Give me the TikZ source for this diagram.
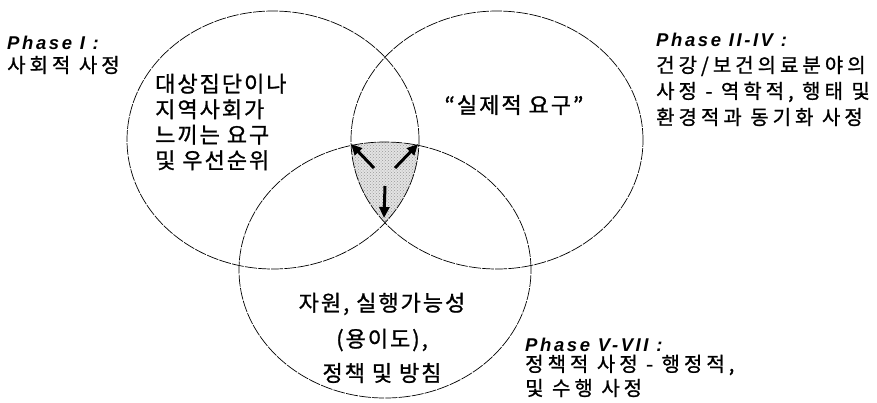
\documentclass[tikz,border=0pt]{standalone}
\usepackage{fontspec}
\setmainfont{Liberation Sans}
\newfontfamily\ph[LetterSpace=14]{Liberation Sans}
\newfontfamily\krsm[LetterSpace=20,FakeBold=1]{Noto Sans CJK KR}
\newfontfamily\krbg[LetterSpace=9,FakeBold=1]{Noto Sans CJK KR}
\usetikzlibrary{arrows.meta,shapes.geometric,patterns}
\begin{document}
\begin{tikzpicture}[x=1pt,y=-1pt,
  ring/.style={draw=black,line width=0.7pt,dash pattern=on 12pt off 1.2pt},
  arr/.style={line width=3pt,-{Triangle[length=11pt,width=10pt]}},
  phase/.style={font=\ph\fontsize{18.5}{20}\selectfont\bfseries\itshape,anchor=west,inner sep=0pt},
  krs/.style={font=\krsm\fontsize{20}{24}\selectfont,anchor=west,inner sep=0pt},
  krb/.style={font=\krbg\fontsize{22}{25.5}\selectfont,inner sep=0pt}]
\useasboundingbox (0,0) rectangle (877,402);
% shaded triple intersection
\begin{scope}
  \clip (273,140) ellipse [x radius=146pt, y radius=129pt];
  \clip (497,140) ellipse [x radius=146pt, y radius=129pt];
  \fill[gray!22] (385,270) ellipse [x radius=146pt, y radius=128pt];
  \fill[pattern=crosshatch dots,pattern color=gray!80] (385,270) ellipse [x radius=146pt, y radius=128pt];
\end{scope}
\node[ring,ellipse,minimum width=292pt,minimum height=258pt,inner sep=0pt] (L) at (273,140) {};
\node[ring,ellipse,minimum width=292pt,minimum height=258pt,inner sep=0pt] (R) at (497,140) {};
\node[ring,ellipse,minimum width=292pt,minimum height=256pt,inner sep=0pt] (B) at (385,270) {};
% arrows
\coordinate (vl) at (351,144);
\coordinate (vr) at (418,144);
\coordinate (vb) at (384,218);
\coordinate (sl) at (374,168);
\coordinate (sr) at (395,168);
\coordinate (sb) at (385,186);
\draw[arr] (sl) -- (vl);
\draw[arr] (sr) -- (vr);
\draw[arr] (sb) -- (vb);
% texts
\node[phase] (p1) at (7,43) {Phase I :};
\node[krs] (p1t) at (7,65) {사회적 사정};
\node[phase] (p2) at (656,40) {Phase II-IV :};
\node[krs] (p2a) at (656,66) {건강/보건의료분야의};
\node[krs] (p2b) at (656,92) {사정 - 역학적, 행태 및};
\node[krs] (p2c) at (656,117) {환경적과 동기화 사정};
\node[phase] (p3) at (525,345) {Phase V-VII :};
\node[krs] (p3a) at (525,365) {정책적 사정 - 행정적,};
\node[krs] (p3b) at (525,388) {및 수행 사정};
\node[krb,anchor=west,align=left] (tl) at (155,122) {대상집단이나\\지역사회가\\느끼는 요구\\및 우선순위};
\node[krb] (tr) at (514,105) {“실제적 요구”};
\node[krb] (b1) at (382,304) {자원, 실행가능성};
\node[krb] (b2) at (382,340) {(용이도),};
\node[krb] (b3) at (382,373) {정책 및 방침};
\end{tikzpicture}
\end{document}
